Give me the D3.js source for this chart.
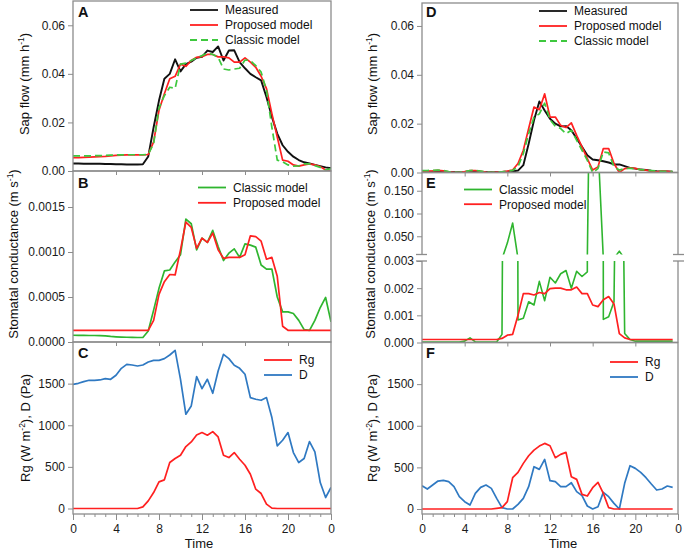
<!DOCTYPE html>
<html><head><meta charset="utf-8">
<script src="https://cdn.jsdelivr.net/npm/d3@7"></script>
<style>body{margin:0;background:#fff} svg{display:block;font-family:Arial,"Liberation Sans",sans-serif}</style>
</head><body><svg id="c" width="685" height="552"></svg>
<script>
// ---------- DATA ----------
const hoursLeft = [0,0.5,1,1.5,2,2.5,3,3.5,4,4.5,5,5.5,6,6.5,7,7.5,8,8.5,9,9.5,10,10.5,11,11.5,12,12.5,13,13.5,14,14.5,15,15.5,16,16.5,17,17.5,18,18.5,19,19.5,20,20.5,21,21.5,22,22.5,23,23.5,24];
const hoursRight = [0,0.5,1,1.5,2,2.5,3,3.5,4,4.5,5,5.5,6,6.5,7,7.5,8,8.5,9,9.5,10,10.5,11,11.5,12,12.5,13,13.5,14,14.5,15,15.5,16,16.5,17,17.5,18,18.5,19,19.5,20,20.5,21,21.5,22,22.5,23,23.5];

// Panel A: sap flow (mm h-1)
const sapMeasuredA = [0.0031,0.0031,0.003,0.003,0.003,0.003,0.0029,0.0029,0.0028,0.0028,0.0027,0.0027,0.0027,0.0028,0.006,0.018,0.029,0.038,0.040,0.046,0.041,0.044,0.045,0.0466,0.047,0.0496,0.049,0.0513,0.0455,0.0496,0.0497,0.0448,0.0423,0.040,0.0386,0.0373,0.0304,0.0223,0.0154,0.0106,0.0079,0.0059,0.0045,0.0036,0.0031,0.0025,0.002,0.0015,0.0011];
const sapProposedA = [0.0055,0.0055,0.0056,0.0057,0.0058,0.0059,0.006,0.0062,0.0064,0.0065,0.0066,0.0066,0.0066,0.0066,0.0068,0.012,0.025,0.0318,0.038,0.039,0.044,0.0431,0.0455,0.0468,0.0471,0.048,0.048,0.047,0.047,0.0466,0.0448,0.0448,0.0466,0.0448,0.0427,0.039,0.0339,0.0236,0.014,0.0045,0.004,0.0025,0.002,0.0025,0.0029,0.0025,0.0018,0.0004,0.0001];
const sapClassicA = [0.0062,0.0062,0.0062,0.0062,0.0063,0.0063,0.0064,0.0065,0.0066,0.0066,0.0067,0.0067,0.0067,0.0067,0.0068,0.0113,0.026,0.031,0.0345,0.034,0.044,0.0444,0.0455,0.0466,0.0475,0.0485,0.048,0.0468,0.042,0.0416,0.042,0.0423,0.0457,0.0455,0.0434,0.0407,0.0332,0.018,0.0045,0.0038,0.0025,0.002,0.0021,0.0029,0.0029,0.0022,0.0015,0.0004,0.001];

// Panel B: stomatal conductance (m s-1)
const gsClassicB = [0.000075,0.000074,0.000073,0.000072,0.000072,0.00007,0.000068,0.000062,0.000058,0.000055,0.000053,0.000052,0.00005,0.00005,0.000123,0.000354,0.000596,0.00079,0.0008,0.00089,0.00097,0.001366,0.001314,0.001024,0.001154,0.001106,0.00124,0.00106,0.000905,0.000987,0.001035,0.00094,0.00109,0.001076,0.001054,0.000856,0.00081,0.00081,0.0005,0.000335,0.000335,0.000316,0.00024,0.000138,0.00013,0.00024,0.000383,0.000495,0.000223];
const gsProposedB = [0.00013,0.00013,0.00013,0.00013,0.00013,0.00013,0.00013,0.00013,0.00013,0.00013,0.00013,0.00013,0.00013,0.00013,0.00013,0.00024,0.00053,0.00067,0.00075,0.000745,0.001024,0.001333,0.001273,0.00104,0.001154,0.001106,0.00121,0.001024,0.00093,0.00094,0.00094,0.00094,0.00097,0.00118,0.00117,0.00112,0.00092,0.00094,0.00073,0.000175,0.00013,0.00013,0.00013,0.00013,0.00013,0.00013,0.00013,0.00013,0.00013];

// Panel C: Rg (W m-2) and D (Pa)
const rgC = [0,0,0,0,0,0,0,0,0,0,0,0,0,20,92,192,320,344,552,600,640,744,800,884,912,880,924,860,640,612,672,592,520,412,232,180,52,4,0,0,0,0,0,0,0,0,0,0,0];
const vpdC = [1492,1504,1524,1540,1540,1544,1560,1552,1600,1684,1732,1724,1712,1724,1760,1780,1780,1800,1844,1900,1552,1132,1232,1584,1440,1552,1384,1652,1852,1800,1720,1684,1612,1332,1312,1300,1332,1092,752,820,912,672,552,600,804,680,312,132,252];

// Panel D: sap flow
const sapMeasuredD = [0.0003,0.0003,0.0003,0.0003,0.0002,0.0002,0.0002,0.0002,0.0002,0.0002,0.0002,0.0002,0.0002,0.0002,0.0002,0.0002,0.0003,0.0004,0.0008,0.003,0.0118,0.0214,0.0291,0.0254,0.022,0.02,0.0189,0.019,0.0173,0.0139,0.0105,0.0071,0.0053,0.005,0.0046,0.0041,0.0033,0.0033,0.0026,0.0019,0.0016,0.0012,0.001,0.0007,0.0005,0.0004,0.0004,0.0003];
const sapProposedD = [0.0006,0.0006,0.0007,0.0009,0.0007,0.0003,0.0001,0.0001,0.0004,0.0008,0.0008,0.0005,0.0002,0.0001,0.0002,0.0003,0.0006,0.001,0.0037,0.0091,0.018,0.0268,0.0257,0.0322,0.0227,0.0227,0.0193,0.0184,0.0203,0.0152,0.0105,0.0057,0.001,0.0023,0.0098,0.0098,0.0037,0.0,0.0016,0.0019,0.0017,0.0012,0.001,0.0006,0.0003,0.0006,0.0005,0.0003];
const sapClassicD = [0.0008,0.0008,0.0009,0.001,0.0008,0.0004,0.0002,0.0001,0.0004,0.0008,0.0009,0.0006,0.0002,0.0001,0.0002,0.0003,0.0005,0.0009,0.0023,0.0078,0.0159,0.0227,0.024,0.0284,0.0216,0.0189,0.018,0.0159,0.0173,0.0132,0.0091,0.005,0.0,0.0016,0.0084,0.008,0.0023,0.001,0.0016,0.0017,0.0015,0.0012,0.001,0.0008,0.0006,0.0005,0.0005,0.0004];

// Panel E: stomatal conductance (broken axis)
const gsClassicE = [0.00002,0.00002,0.00002,0.00002,0.00002,0.00002,0.00002,0.00002,0.00005,0.00017,0.00002,0.00002,0.00002,0.00002,0.00002,0.0003,0.035,0.079,0.00083,0.00089,0.0015,0.00138,0.00225,0.00154,0.0024,0.00219,0.00253,0.00265,0.002,0.00262,0.00243,0.0026,0.9,0.25,0.00085,0.00095,0.0015,0.0174,0.00033,0.00011,0.00005,0.00005,0.00005,0.00005,0.00005,0.00005,0.00005,0.00005];
const gsProposedE = [0.00011,0.00011,0.00011,0.00011,0.00011,0.00011,0.00011,0.00011,0.00011,0.00011,0.00011,0.00011,0.00011,0.00011,0.00011,0.00015,0.00027,0.0003,0.001,0.0018,0.0018,0.00175,0.00184,0.0018,0.00198,0.002,0.002,0.00194,0.00194,0.00204,0.0018,0.0018,0.00138,0.00132,0.00157,0.00169,0.00142,0.00033,0.00017,0.00011,0.00011,0.00011,0.00011,0.00011,0.00011,0.00011,0.00011,0.00011];

// Panel F: Rg and D
const rgF = [0,0,0,0,0,0,0,0,0,0,0,0,0,0,8,16,88,376,440,548,640,708,756,788,760,616,656,680,388,356,176,156,256,320,188,16,0,0,0,0,0,0,0,0,0,0,0,0];
const vpdF = [280,240,288,336,344,328,268,148,88,48,188,260,288,248,128,16,0,0,56,128,268,508,476,596,340,328,268,268,316,208,160,36,0,28,200,148,68,0,308,520,488,440,376,300,228,240,276,260];

// Tick values
const timeTicks = [0,4,8,12,16,20,24];
const timeTickLabels = ["0","4","8","12","16","20","0"];
const minorTimeTicks = [1,2,3,5,6,7,9,10,11,13,14,15,17,18,19,21,22,23];
const sapTicks = [0,0.02,0.04,0.06];
const gsTicksB = [0,0.0005,0.001,0.0015];
const gsTicksElow = [0,0.001,0.002,0.003];
const gsTicksEup = [0.05,0.1,0.15];
const metTicks = [0,500,1000,1500];

// ---------- STYLE ----------
const gray = '#8c8c8c';
const RED = '#ff2020', GREEN = '#2fb52f', GREEN_D = '#3ec83e', BLUE = '#2f79c2', BLACK = '#111111';
const FONT = 'Arial, "Liberation Sans", sans-serif';

const svg = d3.select('#c');
const defs = svg.append('defs');

// ---------- SCALES ----------
const xL = d3.scaleLinear().domain([0,24]).range([73,331]);
const xR = d3.scaleLinear().domain([0,24]).range([422,678]);
const yA = d3.scaleLinear().domain([0,0.07]).range([171,1]);
const yB = d3.scaleLinear().domain([0,0.0019]).range([342,171]);
const yC = d3.scaleLinear().domain([-66,2000]).range([514,342]);
const yD = d3.scaleLinear().domain([0,0.0694]).range([172.5,3]);
const yEl = d3.scaleLinear().domain([0,0.003]).range([342.5,261]);
const yEu = d3.scaleLinear().domain([0.01,0.19]).range([254.5,172.5]);
const yF = d3.scaleLinear().domain([-60,2000]).range([514,342.5]);

function clip(id, x, y){
  const [x0,x1] = x.range(); const r = y.range(); const y0 = Math.min(...r), y1 = Math.max(...r);
  defs.append('clipPath').attr('id',id).append('rect').attr('x',x0).attr('y',y0).attr('width',x1-x0).attr('height',y1-y0);
}
clip('cA',xL,yA); clip('cB',xL,yB); clip('cC',xL,yC);
clip('cD',xR,yD); clip('cEl',xR,yEl); clip('cEu',xR,yEu); clip('cF',xR,yF);

function series(clipId, x, y, hrs, vals, color, w, dash){
  svg.append('path').datum(vals)
    .attr('clip-path',`url(#${clipId})`)
    .attr('fill','none').attr('stroke',color).attr('stroke-width',w)
    .attr('stroke-linejoin','round')
    .attr('stroke-dasharray',dash||null)
    .attr('d', d3.line().x((d,i)=>x(hrs[i])).y(d=>y(d)));
}

// ---------- LINES ----------
series('cA',xL,yA,hoursLeft,sapMeasuredA,BLACK,1.9);
series('cA',xL,yA,hoursLeft,sapProposedA,RED,1.7);
series('cA',xL,yA,hoursLeft,sapClassicA,GREEN_D,1.7,'7,4');

series('cB',xL,yB,hoursLeft,gsClassicB,GREEN,1.7);
series('cB',xL,yB,hoursLeft,gsProposedB,RED,1.7);

series('cC',xL,yC,hoursLeft,vpdC,BLUE,1.7);
series('cC',xL,yC,hoursLeft,rgC,RED,1.7);

series('cD',xR,yD,hoursRight,sapMeasuredD,BLACK,1.9);
series('cD',xR,yD,hoursRight,sapProposedD,RED,1.7);
series('cD',xR,yD,hoursRight,sapClassicD,GREEN_D,1.7,'7,4');

series('cEl',xR,yEl,hoursRight,gsClassicE,GREEN,1.6);
series('cEu',xR,yEu,hoursRight,gsClassicE,GREEN,1.6);
series('cEl',xR,yEl,hoursRight,gsProposedE,RED,1.7);

series('cF',xR,yF,hoursRight,vpdF,BLUE,1.7);
series('cF',xR,yF,hoursRight,rgF,RED,1.7);

// ---------- AXES ----------
function styleAxis(s, fs){
  s.select('.domain').remove();
  s.selectAll('line').attr('stroke',gray).attr('stroke-width',1);
  s.selectAll('text').attr('font-size',fs).attr('fill','#1a1a1a').attr('font-family',FONT);
}
function yAxis(x, scale, ticks, fmt){
  svg.append('g').attr('transform',`translate(${x.range()[0]},0)`)
    .call(d3.axisLeft(scale).tickValues(ticks).tickFormat(fmt).tickSize(5).tickSizeOuter(0).tickPadding(3))
    .call(s=>styleAxis(s,12));
}
yAxis(xL,yA,sapTicks,d3.format('.2f'));
yAxis(xL,yB,gsTicksB,d3.format('.4f'));
yAxis(xL,yC,metTicks,d3.format('d'));
yAxis(xR,yD,sapTicks,d3.format('.2f'));
yAxis(xR,yEl,gsTicksElow,d3.format('.3f'));
yAxis(xR,yEu,gsTicksEup,d3.format('.3f'));
yAxis(xR,yF,metTicks,d3.format('d'));

function xAxisFull(x, y0){
  svg.append('g').attr('transform',`translate(0,${y0})`)
    .call(d3.axisBottom(x).tickValues(timeTicks).tickFormat((d,i)=>timeTickLabels[i]).tickSize(6).tickSizeOuter(0).tickPadding(4))
    .call(s=>styleAxis(s,12));
  svg.append('g').attr('transform',`translate(0,${y0})`)
    .call(d3.axisBottom(x).tickValues(minorTimeTicks).tickFormat('').tickSize(3).tickSizeOuter(0))
    .call(s=>styleAxis(s,12));
}
function xAxisInner(x, y0){
  svg.append('g').attr('transform',`translate(0,${y0})`)
    .call(d3.axisBottom(x).tickValues(timeTicks.slice(1,-1)).tickFormat('').tickSize(4).tickSizeOuter(0))
    .call(s=>styleAxis(s,12));
}
xAxisInner(xL, yA.range()[0]); xAxisInner(xL, yB.range()[0]); xAxisFull(xL, yC.range()[0]);
xAxisInner(xR, yD.range()[0]); xAxisInner(xR, yEl.range()[0]); xAxisFull(xR, yF.range()[0]);

// ---------- FRAMES ----------
function frame(x, y){
  const [x0,x1] = x.range(); const r = y.range();
  svg.append('rect').attr('x',x0).attr('y',Math.min(...r)).attr('width',x1-x0).attr('height',Math.abs(r[0]-r[1]))
    .attr('fill','none').attr('stroke',gray).attr('stroke-width',1.3);
}
frame(xL,yA); frame(xL,yB); frame(xL,yC);
frame(xR,yD); frame(xR,yF);
// broken frame for E
{
  const [x0,x1] = xR.range();
  const yt = yEu.range()[1], yb1 = yEu.range()[0], yt2 = yEl.range()[1], yb = yEl.range()[0];
  const segs = [[x0,yt,x1,yt],[x0,yb,x1,yb],[x0,yt,x0,yb1],[x0,yt2,x0,yb],[x1,yt,x1,yb1],[x1,yt2,x1,yb],
    [x0-6,yb1,x0+5,yb1],[x0-6,yt2,x0+5,yt2],[x1-5,yb1,x1+6,yb1],[x1-5,yt2,x1+6,yt2]];
  svg.append('g').selectAll('line').data(segs).join('line')
    .attr('x1',d=>d[0]).attr('y1',d=>d[1]).attr('x2',d=>d[2]).attr('y2',d=>d[3])
    .attr('stroke',gray).attr('stroke-width',1.3);
}

// ---------- TEXT ----------
function txt(x,y,s,opt={}){
  return svg.append('text').attr('x',x).attr('y',y).attr('font-family',FONT)
    .attr('font-size',opt.fs||12).attr('font-weight',opt.fw||null).attr('fill','#111')
    .attr('text-anchor',opt.anchor||'start').text(s);
}
// panel letters
[['A',78,17],['B',78,188],['C',78,358],['D',426,17],['E',426,188],['F',426,358]].forEach(d=>txt(d[1],d[2],d[0],{fs:14.5,fw:'bold'}));

// y titles (rotated) with superscripts
function ytitle(cx, cy, parts){
  const t = svg.append('text').attr('transform',`translate(${cx},${cy}) rotate(-90)`)
    .attr('text-anchor','middle').attr('dy','0.35em').attr('font-family',FONT).attr('font-size',13).attr('fill','#111');
  parts.forEach(p=>{
    if(p.sup){ t.append('tspan').attr('font-size',8.5).attr('dy',-5).text(p.sup); t.append('tspan').attr('dy',5).text(p.after); }
    else t.append('tspan').text(p.t);
  });
}
const sapTitle = [{t:'Sap flow (mm h'},{sup:'-1',after:')'}];
const gsTitle = [{t:'Stomatal conductance (m s'},{sup:'-1',after:')'}];
const metTitle = [{t:'Rg (W m'},{sup:'-2',after:'), D (Pa)'}];
ytitle(24,84,sapTitle); ytitle(13,254,gsTitle); ytitle(25,428,metTitle);
ytitle(372,84,sapTitle); ytitle(370,254,gsTitle); ytitle(372,428,metTitle);

// x titles
txt(199,548,'Time',{fs:13,anchor:'middle'});
txt(563,548,'Time',{fs:13,anchor:'middle'});

// legends
function legend(x, y, items){
  items.forEach((it,i)=>{
    const yy = y + i*it.gap;
    svg.append('line').attr('x1',x).attr('x2',x+28).attr('y1',yy).attr('y2',yy)
      .attr('stroke',it.color).attr('stroke-width',it.w||1.8).attr('stroke-dasharray',it.dash||null);
    txt(x+35,yy+4.3,it.label,{fs:12});
  });
}
legend(190,10,[{label:'Measured',color:BLACK,gap:15},{label:'Proposed model',color:RED,gap:15},{label:'Classic model',color:GREEN_D,dash:'7,4',gap:15}]);
legend(539,11,[{label:'Measured',color:BLACK,gap:15},{label:'Proposed model',color:RED,gap:15},{label:'Classic model',color:GREEN_D,dash:'7,4',gap:15}]);
legend(198,187.5,[{label:'Classic model',color:GREEN,gap:15.3},{label:'Proposed model',color:RED,gap:15.3}]);
legend(464,189.5,[{label:'Classic model',color:GREEN,gap:14.7},{label:'Proposed model',color:RED,gap:14.7}]);
legend(264,360,[{label:'Rg',color:RED,gap:15},{label:'D',color:BLUE,gap:15}]);
legend(610,362,[{label:'Rg',color:RED,gap:15},{label:'D',color:BLUE,gap:15}]);
</script></body></html>
